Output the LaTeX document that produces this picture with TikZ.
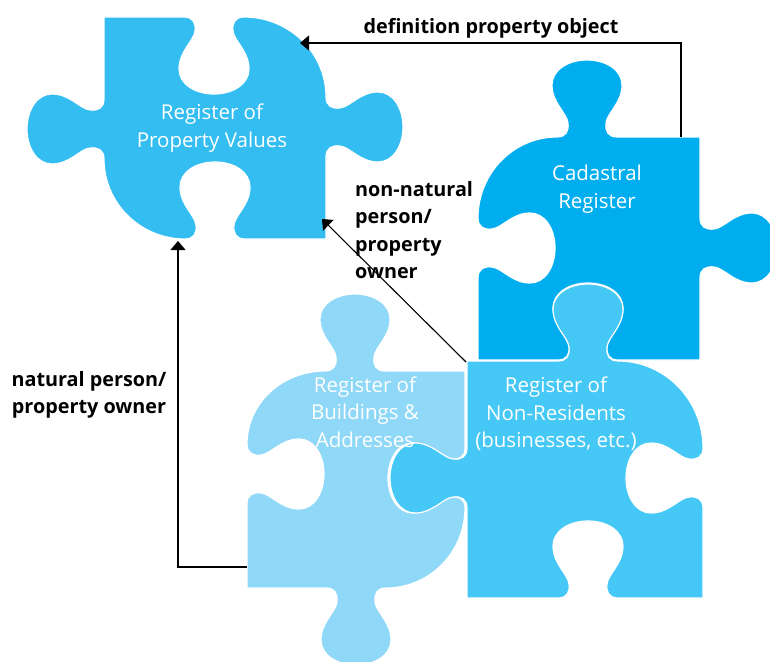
\documentclass[tikz,border=0pt]{standalone}
\usepackage{fontspec}
\setmainfont{Open Sans}
\usetikzlibrary{arrows.meta}
\definecolor{cPV}{HTML}{33BDF0}
\definecolor{cCad}{HTML}{00AEEF}
\definecolor{cBld}{HTML}{8FD8F7}
\definecolor{cNR}{HTML}{45C8F5}
% one tab (or hole) on a side: #1,#2 = centre on the side line, #3 = travel direction style, #4 = bulge direction style
\newcommand\bump[4]{{[#3,#4,shift={(#1pt,-#2pt)}] -- (-30,0) .. controls (-21,0) and (-18,6) .. (-19,14) .. controls (-20,24) and (-35,34) .. (-35,52) .. controls (-35,67) and (-19,77) .. (0,77) .. controls (19,77) and (35,67) .. (35,52) .. controls (35,34) and (20,24) .. (19,14) .. controls (18,6) and (21,0) .. (30,0)}}
\begin{document}
\begin{tikzpicture}[x=1pt,y=-1pt,
  uE/.style={x={(1pt,0pt)}}, uW/.style={x={(-1pt,0pt)}},
  uS/.style={x={(0pt,-1pt)}}, uN/.style={x={(0pt,1pt)}},
  nE/.style={y={(1pt,0pt)}}, nW/.style={y={(-1pt,0pt)}},
  nS/.style={y={(0pt,-1pt)}}, nN/.style={y={(0pt,1pt)}},
  piece/.style={draw=white, line width=1.2pt},
  ptxt/.style={font=\fontsize{20.5}{27.5}\selectfont, text=white, align=center, inner sep=0pt},
  lbl/.style={font=\bfseries\fontsize{19.8}{27.5}\selectfont, text=black, inner sep=0pt},
  conn/.style={line width=1.1pt, -{Triangle[length=9pt,width=15pt]}}]
\useasboundingbox (0,0) rectangle (770,661);
\clip (0,0) rectangle (770,661);
% Register of Property Values
\fill[cPV, piece] (104,17) \bump{214}{17}{uE}{nS}
  .. controls (289.3,17) and (326,52.8) .. (326,97)
  \bump{326}{127}{uS}{nE} -- (326,239)
  \bump{215}{239}{uW}{nN}
  .. controls (140.3,239) and (104,203.2) .. (104,159)
  \bump{104}{129}{uN}{nW} -- cycle;
% Cadastral Register
\fill[cCad, piece] (478,218)
  .. controls (478,173.3) and (513.4,137) .. (557,137)
  \bump{587}{137}{uE}{nN} -- (700,137)
  \bump{700}{248}{uS}{nE} -- (700,360)
  \bump{588}{360}{uW}{nN} -- (478,360)
  \bump{478}{248}{uN}{nE} -- cycle;
% Register of Buildings & Addresses
\fill[cBld, piece] (247,444)
  .. controls (247,403.7) and (281.9,371) .. (325,371)
  \bump{355}{371}{uE}{nN} -- (465,371)
  \bump{465}{478}{uS}{nW}
  .. controls (465,552.2) and (429.6,588) .. (386,588)
  \bump{356}{588}{uW}{nS} -- (247,588)
  \bump{247}{474}{uN}{nE} -- cycle;
% Register of Non-Residents
\fill[cNR, piece] (467,361) \bump{588}{361}{uE}{nN}
  .. controls (664.9,361) and (703,400) .. (703,448)
  \bump{703}{478}{uS}{nW} -- (703,598)
  \bump{588}{598}{uW}{nN} -- (467,598)
  \bump{467}{478}{uN}{nW} -- cycle;
% texts in the pieces
\node[ptxt] (pvT) at (212,128) {Register of\\Property Values};
\node[ptxt] (cadT) at (597,189) {Cadastral\\Register};
\node[ptxt] (bldT) at (365,412) {Register of\\Buildings \&\\Addresses};
\node[ptxt] (nrT) at (556,414) {Register of\\Non-Residents\\(businesses, etc.)};
% connector end points
\coordinate (cadTop) at (681,137);
\coordinate (pvTR) at (300,43);
\coordinate (bldL) at (247,567);
\coordinate (pvB) at (178,241);
\coordinate (nrTL) at (466,362);
\coordinate (pvBR) at (322,219);
\draw[conn] (cadTop) |- (pvTR);
\draw[conn] (bldL) -| (pvB);
\draw[conn] (nrTL) -- (pvBR);
% labels
\node[lbl] (defL) at (491,28) {definition property object};
\node[lbl, align=left, anchor=west] (nnL) at (355,230) {non-natural\\person/\\property\\owner};
\node[lbl, align=center] (natL) at (89,395) {natural person/\\property owner};
\end{tikzpicture}
\end{document}
